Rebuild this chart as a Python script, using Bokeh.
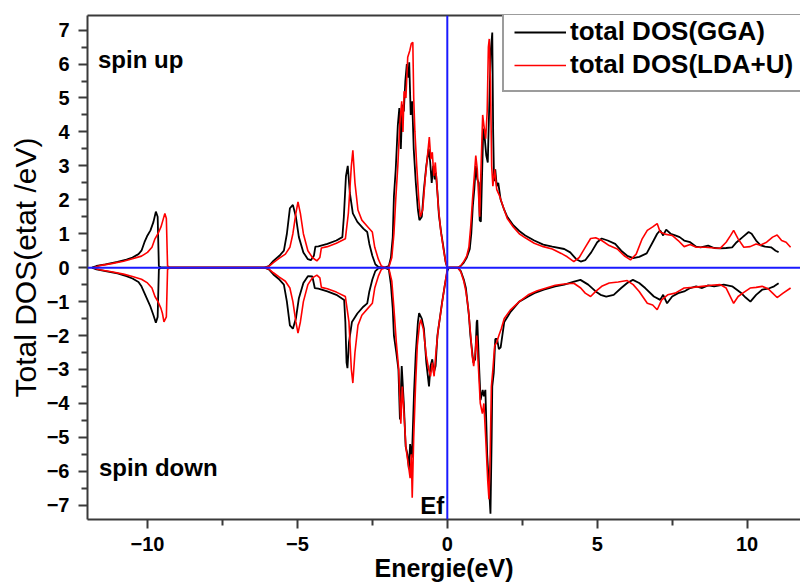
from bokeh.plotting import figure
from bokeh.models import (Range1d, FixedTicker, LinearAxis, Span, Label,
                          Legend, LegendItem)
from bokeh.embed import file_html
from bokeh.resources import INLINE

# ---------------- data ----------------
e_gga_up = [-11.85, -11.7, -11.4, -11.0, -10.7, -10.5, -10.3, -10.2, -10.1, -10.0, -9.9, -9.8, -9.72, -9.66, -9.62, -9.55,
            -6.1, -5.95, -5.8, -5.6, -5.45, -5.35, -5.25, -5.15, -5.05, -4.95, -4.8, -4.65, -4.55, -4.45, -4.4, -4.3,
            -4.0, -3.7, -3.5, -3.45, -3.38, -3.32, -3.25, -3.15, -3.0, -2.8, -2.67, -2.6, -2.5, -2.4, -2.3, -2.1,
            -1.95, -1.88, -1.82, -1.78, -1.72, -1.65, -1.6, -1.55, -1.5, -1.45, -1.4, -1.35, -1.3, -1.27, -1.22,
            -1.17, -1.12, -1.05, -0.98, -0.93, -0.85, -0.78, -0.7, -0.62, -0.57, -0.52, -0.47, -0.42, -0.38, -0.32,
            -0.28, -0.2, -0.12, -0.06, 0.0, 0.35, 0.45, 0.55, 0.65, 0.75, 0.8, 0.85, 0.9, 0.95, 1.0, 1.05, 1.08,
            1.12, 1.15, 1.2, 1.25, 1.3, 1.35, 1.4, 1.45, 1.5, 1.53, 1.56, 1.6, 1.65, 1.7, 1.78, 1.9, 2.0, 2.2, 2.4,
            2.6, 2.9, 3.2, 3.5, 3.9, 4.1, 4.3, 4.45, 4.6, 4.8, 5.0, 5.15, 5.35, 5.6, 5.8, 6.0, 6.2, 6.4, 6.65, 6.85,
            7.0, 7.1, 7.2, 7.3, 7.45, 7.6, 7.75, 7.9, 8.1, 8.3, 8.45, 8.7, 8.9, 9.1, 9.3, 9.5, 9.65, 9.85, 10.05,
            10.15, 10.3, 10.45, 10.6, 10.8, 10.95, 11.05]
dos_gga_up = [0.0, 0.05, 0.1, 0.17, 0.24, 0.3, 0.4, 0.5, 0.75, 0.95, 1.1, 1.35, 1.65, 1.5, 0.05, 0.0,
              0.0, 0.05, 0.2, 0.35, 0.5, 1.0, 1.75, 1.85, 1.5, 0.9, 0.45, 0.25, 0.22, 0.35, 0.62, 0.63,
              0.7, 0.8, 0.9, 1.5, 2.7, 3.0, 2.2, 1.6, 1.35, 1.15, 1.05, 0.7, 0.35, 0.1, 0.02, 0.0,
              0.05, 0.3, 0.9, 2.1, 2.9, 4.2, 4.7, 3.5, 4.8, 4.6, 5.5, 6.0, 5.6, 6.05, 4.5,
              4.9, 3.5, 2.5, 1.7, 1.4, 1.5, 2.3, 3.0, 3.5, 3.1, 2.5, 3.0, 2.6, 2.8, 2.1,
              1.55, 1.0, 0.55, 0.18, 0.0, 0.0, 0.05, 0.15, 0.3, 0.55, 1.0, 1.8, 2.3, 3.0, 2.6, 2.5, 1.4,
              1.35, 2.4, 4.1, 3.8, 3.3, 3.1, 4.8, 6.4, 6.93, 4.0, 2.55, 2.9, 2.4, 2.5, 2.0, 1.7, 1.5, 1.25, 1.08,
              0.95, 0.8, 0.68, 0.62, 0.55, 0.45, 0.25, 0.18, 0.22, 0.45, 0.75, 0.86, 0.8, 0.7, 0.5, 0.35, 0.28, 0.32, 0.42, 0.75,
              1.0, 1.1, 0.95, 1.12, 1.0, 0.95, 0.9, 0.8, 0.75, 0.62, 0.6, 0.65, 0.58, 0.57, 0.58, 0.6, 0.75, 0.9, 1.05,
              1.0, 0.8, 0.66, 0.62, 0.6, 0.5, 0.46]

e_lda_up = [-11.8, -11.6, -11.2, -10.8, -10.5, -10.2, -10.0, -9.85, -9.75, -9.65, -9.55, -9.5, -9.42, -9.37, -9.33, -9.25,
            -6.1, -5.95, -5.8, -5.6, -5.4, -5.25, -5.15, -5.05, -4.98, -4.9, -4.8, -4.65, -4.5, -4.35, -4.25, -4.2,
            -4.0, -3.7, -3.4, -3.3, -3.2, -3.15, -3.08, -2.98, -2.85, -2.65, -2.5, -2.42, -2.3, -2.2, -2.05,
            -1.95, -1.85, -1.78, -1.72, -1.65, -1.58, -1.52, -1.48, -1.44, -1.38, -1.32, -1.25, -1.2, -1.15, -1.12,
            -1.08, -1.02, -0.95, -0.9, -0.82, -0.74, -0.66, -0.6, -0.55, -0.5, -0.45, -0.4, -0.35, -0.3, -0.22,
            -0.12, -0.05, 0.0, 0.35, 0.45, 0.55, 0.65, 0.72, 0.78, 0.84, 0.9, 0.95, 1.0, 1.04, 1.08, 1.12, 1.18,
            1.22, 1.28, 1.33, 1.37, 1.4, 1.44, 1.48, 1.52, 1.58, 1.65, 1.75, 1.9, 2.0, 2.2, 2.4, 2.6, 2.9, 3.2,
            3.5, 3.8, 4.0, 4.22, 4.4, 4.6, 4.78, 4.95, 5.15, 5.4, 5.67, 5.9, 6.11, 6.3, 6.5, 6.67, 6.85, 7.0,
            7.1, 7.3, 7.5, 7.7, 7.9, 8.1, 8.3, 8.6, 8.9, 9.1, 9.3, 9.45, 9.55, 9.7, 9.89, 10.1, 10.3, 10.44,
            10.65, 10.85, 11.0, 11.15, 11.3, 11.45]
dos_lda_up = [0.0, 0.06, 0.12, 0.19, 0.26, 0.34, 0.45, 0.6, 0.85, 1.0, 1.2, 1.35, 1.6, 1.45, 0.05, 0.0,
              0.0, 0.04, 0.15, 0.28, 0.4, 0.6, 1.0, 1.6, 1.94, 1.6, 1.0, 0.5, 0.3, 0.2, 0.3, 0.58,
              0.62, 0.72, 0.85, 1.6, 3.0, 3.46, 2.5, 1.7, 1.4, 1.2, 1.05, 0.6, 0.25, 0.05, 0.0,
              0.02, 0.3, 1.0, 2.0, 3.0, 4.3, 4.9, 4.0, 5.2, 5.0, 6.2, 6.4, 6.6, 6.64, 5.0,
              4.0, 3.0, 2.0, 1.5, 1.7, 2.6, 3.3, 3.85, 3.2, 3.4, 2.7, 3.1, 2.5, 1.8, 1.1,
              0.5, 0.15, 0.0, 0.0, 0.06, 0.18, 0.35, 0.6, 1.2, 2.0, 2.7, 3.3, 2.9, 2.2, 1.5, 2.8, 4.5,
              4.2, 3.8, 4.6, 6.5, 6.74, 5.5, 3.0, 2.4, 2.9, 2.3, 2.1, 1.7, 1.45, 1.2, 1.0, 0.88, 0.72, 0.62,
              0.55, 0.42, 0.32, 0.18, 0.3, 0.6, 0.86, 0.88, 0.8, 0.65, 0.55, 0.35, 0.23, 0.4, 0.85, 1.1, 1.2, 1.3,
              1.05, 0.98, 0.95, 0.8, 0.62, 0.68, 0.6, 0.6, 0.58, 0.57, 0.75, 0.95, 1.1, 0.85, 0.6, 0.62, 0.7, 0.66,
              0.75, 0.9, 0.96, 0.8, 0.75, 0.6]

e_gga_dn = [-11.85, -11.7, -11.4, -11.0, -10.7, -10.5, -10.3, -10.2, -10.1, -10.0, -9.9, -9.8, -9.72, -9.66, -9.62, -9.55,
            -6.1, -5.95, -5.8, -5.6, -5.45, -5.35, -5.25, -5.15, -5.05, -4.95, -4.8, -4.65, -4.5, -4.42, -4.3,
            -4.0, -3.7, -3.44, -3.4, -3.36, -3.33, -3.28, -3.18, -3.0, -2.8, -2.67, -2.6, -2.5, -2.4, -2.3, -2.1,
            -1.95, -1.88, -1.82, -1.78, -1.7, -1.63, -1.58, -1.52, -1.45, -1.39, -1.33, -1.28, -1.24, -1.18, -1.11,
            -1.05, -0.98, -0.94, -0.85, -0.78, -0.7, -0.61, -0.56, -0.5, -0.45, -0.39, -0.33, -0.25, -0.17, -0.08,
            0.0, 0.05, 0.35, 0.45, 0.55, 0.62, 0.67, 0.72, 0.77, 0.82, 0.87, 0.93, 0.98, 1.0, 1.05, 1.11, 1.18,
            1.22, 1.27, 1.33, 1.4, 1.44, 1.48, 1.5, 1.55, 1.6, 1.66, 1.72, 1.78, 1.9, 2.11, 2.4, 2.7, 2.9, 3.22,
            3.6, 3.9, 4.2, 4.44, 4.7, 4.95, 5.11, 5.3, 5.55, 5.8, 6.0, 6.19, 6.4, 6.6, 6.89, 7.1, 7.2, 7.33,
            7.5, 7.7, 7.9, 8.1, 8.3, 8.5, 8.7, 8.9, 9.22, 9.5, 9.78, 9.95, 10.11, 10.3, 10.5, 10.7, 10.9, 11.05]
dos_gga_dn = [0.0, -0.05, -0.1, -0.17, -0.25, -0.32, -0.42, -0.55, -0.75, -0.95, -1.15, -1.4, -1.62, -1.45, -0.05, 0.0,
              0.0, -0.05, -0.2, -0.35, -0.5, -1.0, -1.7, -1.8, -1.5, -0.9, -0.45, -0.25, -0.26, -0.6, -0.62,
              -0.7, -0.8, -0.95, -1.6, -2.8, -2.96, -2.2, -1.6, -1.35, -1.15, -1.05, -0.7, -0.35, -0.1, -0.02, 0.0,
              -0.05, -0.5, -1.2, -2.0, -2.5, -3.0, -4.47, -2.9, -4.0, -5.26, -5.5, -5.94, -5.2, -5.6, -3.69,
              -2.5, -1.6, -1.34, -1.5, -1.8, -2.8, -3.5, -2.9, -2.7, -3.1, -2.9, -2.0, -1.5, -1.0, -0.5,
              -0.1, 0.0, 0.0, -0.1, -0.35, -0.6, -1.0, -1.4, -2.0, -2.4, -2.8, -2.7, -1.6, -1.54, -2.7, -3.9, -3.6,
              -3.79, -3.6, -5.5, -6.6, -7.25, -5.0, -3.5, -3.1, -2.1, -2.1, -2.4, -2.35, -1.6, -1.3, -1.0, -0.85, -0.75, -0.65,
              -0.55, -0.5, -0.42, -0.36, -0.5, -0.7, -0.8, -0.85, -0.8, -0.6, -0.45, -0.36, -0.45, -0.6, -0.85, -0.95, -0.8, -1.05,
              -0.85, -0.75, -0.7, -0.6, -0.55, -0.6, -0.52, -0.55, -0.5, -0.55, -0.73, -0.88, -1.0, -0.8, -0.65, -0.62, -0.55, -0.46]

e_lda_dn = [-11.8, -11.6, -11.2, -10.8, -10.5, -10.2, -10.0, -9.85, -9.75, -9.65, -9.55, -9.5, -9.45, -9.37, -9.33, -9.25,
            -6.1, -5.95, -5.8, -5.6, -5.4, -5.25, -5.15, -5.05, -4.98, -4.9, -4.8, -4.65, -4.5, -4.35, -4.25, -4.2,
            -4.0, -3.7, -3.4, -3.28, -3.2, -3.15, -3.08, -2.98, -2.85, -2.65, -2.5, -2.42, -2.3, -2.2, -2.05,
            -1.95, -1.85, -1.78, -1.7, -1.62, -1.55, -1.5, -1.45, -1.38, -1.3, -1.24, -1.2, -1.17, -1.12, -1.06,
            -1.0, -0.93, -0.89, -0.8, -0.7, -0.62, -0.56, -0.5, -0.44, -0.38, -0.3, -0.2, -0.1, -0.02, 0.0,
            0.35, 0.45, 0.55, 0.62, 0.7, 0.78, 0.83, 0.88, 0.93, 0.98, 1.03, 1.1, 1.17, 1.22, 1.28, 1.35, 1.39,
            1.43, 1.47, 1.52, 1.58, 1.65, 1.72, 1.8, 1.9, 2.1, 2.4, 2.7, 3.0, 3.3, 3.6, 3.9, 4.22, 4.45, 4.6,
            4.78, 4.95, 5.15, 5.4, 5.7, 6.0, 6.2, 6.4, 6.67, 6.85, 7.0, 7.15, 7.35, 7.6, 7.9, 8.2, 8.5, 8.8,
            9.1, 9.3, 9.55, 9.7, 9.89, 10.1, 10.3, 10.5, 10.7, 10.85, 11.0, 11.2, 11.45]
dos_lda_dn = [0.0, -0.06, -0.12, -0.19, -0.26, -0.34, -0.45, -0.6, -0.85, -1.0, -1.2, -1.35, -1.6, -1.45, -0.05, 0.0,
              0.0, -0.04, -0.15, -0.28, -0.4, -0.6, -1.0, -1.6, -1.93, -1.6, -1.0, -0.5, -0.3, -0.22, -0.3, -0.58,
              -0.62, -0.72, -0.85, -1.6, -3.0, -3.4, -2.5, -1.7, -1.4, -1.2, -1.05, -0.6, -0.25, -0.05, 0.0,
              -0.02, -0.4, -1.2, -2.2, -3.0, -4.6, -3.5, -4.2, -5.3, -5.8, -6.2, -5.5, -6.78, -5.0, -3.5,
              -2.3, -1.7, -1.53, -1.8, -2.6, -3.0, -3.2, -2.8, -3.2, -2.5, -1.8, -1.2, -0.6, -0.15, 0.0,
              0.0, -0.12, -0.4, -0.7, -1.2, -2.0, -2.6, -2.9, -2.5, -2.0, -2.8, -4.0, -4.3, -4.0, -5.0, -6.3, -6.82,
              -5.5, -3.5, -3.0, -2.3, -2.2, -2.0, -1.8, -1.5, -1.25, -1.0, -0.8, -0.68, -0.6, -0.52, -0.48, -0.46, -0.6, -0.75,
              -0.85, -0.7, -0.55, -0.45, -0.42, -0.38, -0.5, -0.7, -1.05, -1.1, -1.24, -0.95, -0.8, -0.75, -0.6, -0.58, -0.55, -0.52,
              -0.5, -0.6, -1.05, -0.85, -0.73, -0.6, -0.58, -0.55, -0.62, -0.75, -0.88, -0.75, -0.6]

x_ticks = [-10, -5, 0, 5, 10]
x_minor = [-7.5, -2.5, 2.5, 7.5]
y_ticks = [-7, -6, -5, -4, -3, -2, -1, 0, 1, 2, 3, 4, 5, 6, 7]
y_minor = [-6.5, -5.5, -4.5, -3.5, -2.5, -1.5, -0.5, 0.5, 1.5, 2.5, 3.5, 4.5, 5.5, 6.5]
series_labels = ["total DOS(GGA)", "total DOS(LDA+U)"]
fermi_level = 0.0

FONT = "Liberation Sans"
AX = "#3a3a3a"

p = figure(width=800, height=584, output_backend="svg", toolbar_location=None,
           x_range=Range1d(-12, 11.78), y_range=Range1d(-7.42, 7.43),
           min_border_left=87, min_border_right=0, min_border_top=15, min_border_bottom=64)
p.grid.visible = False
p.outline_line_color = None
p.background_fill_color = "white"
p.border_fill_color = "white"

for ax, ticks, minor in ((p.xaxis[0], x_ticks, x_minor), (p.yaxis[0], y_ticks, y_minor)):
    ax.ticker = FixedTicker(ticks=ticks, minor_ticks=minor)
    ax.axis_line_color = AX
    ax.axis_line_width = 2
    ax.major_tick_line_color = AX
    ax.minor_tick_line_color = AX
    ax.major_tick_line_width = 2
    ax.minor_tick_line_width = 2
    ax.major_tick_in = 0
    ax.major_tick_out = 9
    ax.minor_tick_in = 0
    ax.minor_tick_out = 6
    ax.major_label_text_font = FONT
    ax.major_label_text_font_style = "bold"
    ax.major_label_text_font_size = "20px"
    ax.major_label_text_color = "black"
    ax.axis_label_text_font = FONT
    ax.axis_label_text_color = "black"

p.xaxis.major_label_standoff = 8
p.yaxis.major_label_standoff = 9
p.xaxis.axis_label = "Energie(eV)"
p.xaxis.axis_label_text_font_size = "25px"
p.xaxis.axis_label_text_font_style = "bold"
p.xaxis.axis_label_standoff = 0
p.yaxis.axis_label = "Total DOS(etat /eV)"
p.yaxis.axis_label_text_font_size = "30px"
p.yaxis.axis_label_text_font_style = "normal"
p.yaxis.axis_label_standoff = 2

top = LinearAxis(ticker=FixedTicker(ticks=[]), major_label_text_font_size="0px",
                 major_tick_line_color=None, minor_tick_line_color=None,
                 axis_line_color=AX, axis_line_width=2)
p.add_layout(top, "above")

r_gga = p.line(e_gga_up, dos_gga_up, line_color="black", line_width=1.8)
p.line(e_gga_dn, dos_gga_dn, line_color="black", line_width=1.8)
r_lda = p.line(e_lda_up, dos_lda_up, line_color="red", line_width=1.6)
p.line(e_lda_dn, dos_lda_dn, line_color="red", line_width=1.6)

p.add_layout(Span(location=fermi_level, dimension="width", line_color="#1a1aff", line_width=2))
p.add_layout(Span(location=fermi_level, dimension="height", line_color="#1a1aff", line_width=2))

for txt, xx, yy, al in (("spin up", -11.65, 6.12, "left"), ("spin down", -11.62, -5.9, "left"),
                        ("Ef", -0.1, -7.02, "right")):
    p.add_layout(Label(x=xx, y=yy, text=txt, text_align=al, text_baseline="alphabetic",
                       text_font=FONT, text_font_style="bold", text_font_size="24px",
                       text_color="black"))

legend = Legend(items=[LegendItem(label=series_labels[0], renderers=[r_gga]),
                       LegendItem(label=series_labels[1], renderers=[r_lda])],
                location=(415, 427), orientation="vertical",
                label_text_font=FONT, label_text_font_style="bold", label_text_font_size="26px",
                label_text_color="black", glyph_width=52, glyph_height=28, label_height=28,
                label_width=260, label_standoff=4, padding=10, spacing=2, margin=0,
                border_line_color=AX, border_line_width=2, background_fill_color="white",
                background_fill_alpha=1.0)
p.add_layout(legend)

open("out.html", "w").write(file_html(p, INLINE))
